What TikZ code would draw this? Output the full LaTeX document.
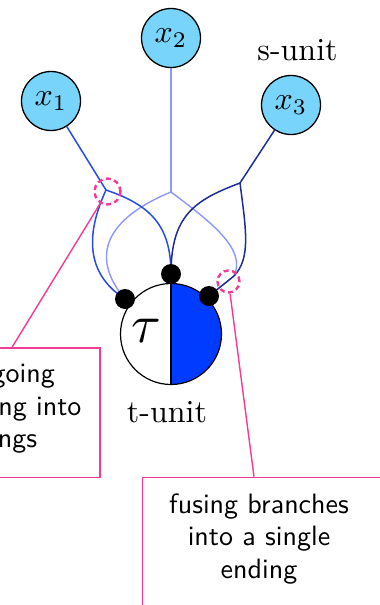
\documentclass[tikz,border=0pt]{standalone}
\definecolor{xfill}{RGB}{120,212,250}
\definecolor{cone}{RGB}{40,75,225}
\definecolor{ctwo}{RGB}{140,150,255}
\definecolor{cthree}{RGB}{30,45,150}
\definecolor{tfill}{RGB}{0,60,255}
\definecolor{pinkc}{RGB}{240,60,150}
\newcommand{\bigsf}[1]{\scalebox{2.8}{\sffamily #1}}
\newcommand{\bigrm}[1]{\scalebox{3.2}{#1}}
\begin{document}
\begin{tikzpicture}[x=1pt,y=-1pt,
  xnode/.style={circle, draw=black, line width=1.3pt, fill=xfill, minimum size=59pt, inner sep=0pt},
  dotnode/.style={circle, fill=black, minimum size=20pt, inner sep=0pt},
  brone/.style={draw=cone, line width=1.5pt},
  brtwo/.style={draw=ctwo, line width=1.4pt},
  brthree/.style={draw=cthree, line width=1.5pt},
  tcirc/.style={circle, draw=black, line width=1.2pt, minimum size=101pt, inner sep=0pt},
  pcirc/.style={circle, draw=pinkc, line width=2.4pt, dash pattern=on 5pt off 3.5pt, inner sep=0pt},
  pline/.style={draw=pinkc, line width=1.4pt},
  callbox/.style={draw=pinkc, line width=1.4pt, rectangle, inner sep=0pt},
  boxtext/.style={inner sep=0pt},
  unitlabel/.style={inner sep=0pt}
]
\useasboundingbox (0,0) rectangle (380,605);
\clip (0,0) rectangle (380,605);

% input nodes
\node[xnode] (x1) at (51,101) {\bigrm{$x_1$}};
\node[xnode] (x2) at (171,38) {\bigrm{$x_2$}};
\node[xnode] (x3) at (291,105) {\bigrm{$x_3$}};
\node[unitlabel, anchor=base] (sunit) at (297.5,60) {\bigrm{s-unit}};

% junctions
\coordinate (J1) at (106,190);
\coordinate (J2) at (171,192);
\coordinate (J3) at (240,183);
\coordinate (F) at (234,276);

% dendrite endings
\coordinate (L) at (125,299);
\coordinate (T) at (171,274);
\coordinate (R) at (209,296);

% x2 branches (light)
\draw[brtwo] (x2) -- (J2);
\draw[brtwo] (J2) .. controls (108,218) and (88,255) .. (L);
\draw[brtwo] (J2) .. controls (215,225) and (246,250) .. (F);

% x1 branches
\draw[brone] (x1) -- (J1);
\draw[brone] (J1) .. controls (90,225) and (80,270) .. (L);
\draw[brone] (J1) .. controls (150,205) and (171,225) .. (T);

% x3 branches
\draw[brthree] (x3) -- (J3);
\draw[brthree] (J3) .. controls (195,200) and (171,215) .. (T);
\draw[brthree] (J3) .. controls (246,230) and (251,258) .. (F);
\draw[brthree] (F) -- (R);

% t-unit
\coordinate (tc) at (171,334);
\begin{scope}
  \clip (171,270) rectangle (240,400);
  \fill[tfill] (tc) circle[radius=50.5];
\end{scope}
\node[tcirc] (tau) at (tc) {};
\draw[line width=1.2pt] (tau.north) -- (tau.south);
\node[inner sep=0pt] (tausym) at (146,331) {\scalebox{5.4}{$\tau$}};
\node[unitlabel, anchor=base] (tunit) at (167,422) {\bigrm{t-unit}};

% dots
\node[dotnode] (dL) at (L) {};
\node[dotnode] (dT) at (T) {};
\node[dotnode] (dR) at (R) {};

% highlight circles
\node[pcirc, minimum size=26pt] (pc1) at (107.5,191.5) {};
\node[pcirc, minimum size=22pt] (pc2) at (228.5,281.5) {};

% callout boxes
\node[callbox, anchor=north east, minimum width=250pt, minimum height=129.5pt] (lbox) at (100.7,347.3) {};
\node[callbox, anchor=north west, minimum width=260pt, minimum height=160pt] (rbox) at (141.7,476.7) {};

\coordinate (la) at (12,347.3);
\coordinate (ra) at (254,476.7);
\draw[pline] (pc1) -- (la);
\draw[pline] (pc2) -- (ra);

% box texts
\node[boxtext, anchor=base east] (lt1) at (55,382.5) {\bigsf{going}};
\node[boxtext, anchor=base east] (lt2) at (81.7,415) {\bigsf{ng into}};
\node[boxtext, anchor=base east] (lt3) at (37.3,447.5) {\bigsf{ngs}};
\node[boxtext, anchor=base] (rt) at (259,578) {\scalebox{2.8}{\sffamily\renewcommand{\arraystretch}{0.967}\begin{tabular}[b]{@{}c@{}}fusing branches\\into a single\\ending\end{tabular}}};
\end{tikzpicture}
\end{document}
